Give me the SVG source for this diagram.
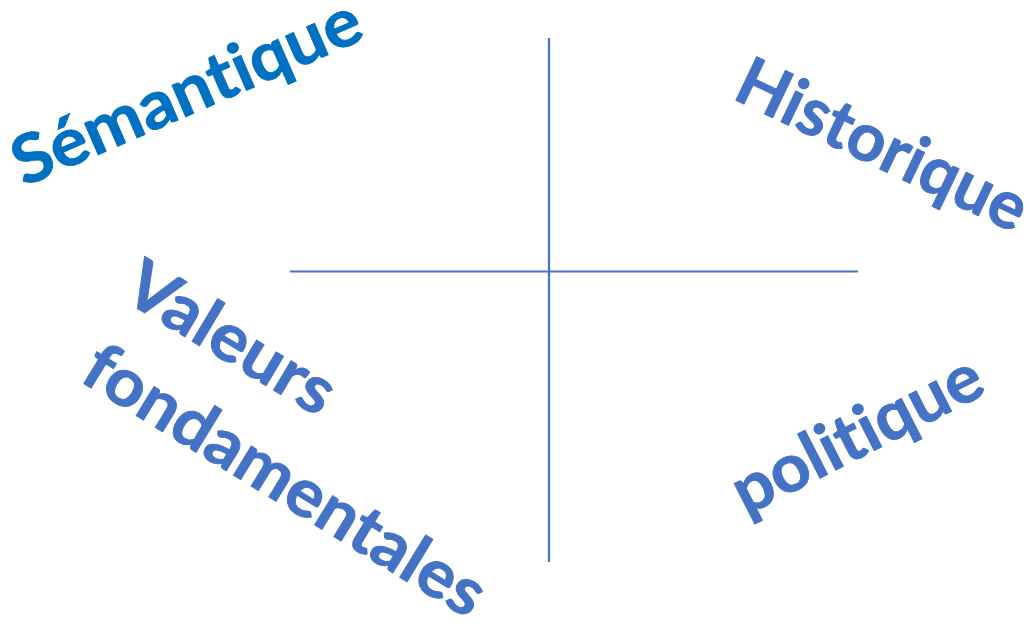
<svg xmlns="http://www.w3.org/2000/svg" width="1027" height="629" viewBox="0 0 1027 629">
<style>
.t{font-family:Lato,"Open Sans","Liberation Sans",sans-serif;font-weight:700;font-size:67px;fill:#4472C4;stroke:#4472C4;stroke-width:0.9;font-variant-ligatures:none;font-feature-settings:"liga" 0,"clig" 0}
.b{fill:#0070C0;stroke:#0070C0}
.ax{stroke:#4472C4;stroke-width:2.2;fill:none}
</style>
<rect width="1027" height="629" fill="#FFFFFF"/>
<g id="connectors">
<line class="ax" x1="549" y1="38" x2="549" y2="562"/>
<line class="ax" x1="290" y1="271.5" x2="858" y2="271.5"/>
</g>
<g id="semantique">
<text class="t b" transform="translate(24,187) rotate(-23.5)" textLength="374" lengthAdjust="spacingAndGlyphs">Sémantique</text>
</g>
<g id="historique">
<text class="t" transform="translate(731,98) rotate(25.5)" textLength="314" lengthAdjust="spacingAndGlyphs">Historique</text>
</g>
<g id="valeurs">
<text class="t" transform="translate(120,298) rotate(31)" textLength="232" lengthAdjust="spacingAndGlyphs">Valeurs</text>
<text class="t" transform="translate(78,380) rotate(31.5)" textLength="458" lengthAdjust="spacingAndGlyphs">fondamentales</text>
</g>
<g id="politique">
<text class="t" transform="translate(746,516) rotate(-27)" textLength="272" lengthAdjust="spacingAndGlyphs">politique</text>
</g>
</svg>
